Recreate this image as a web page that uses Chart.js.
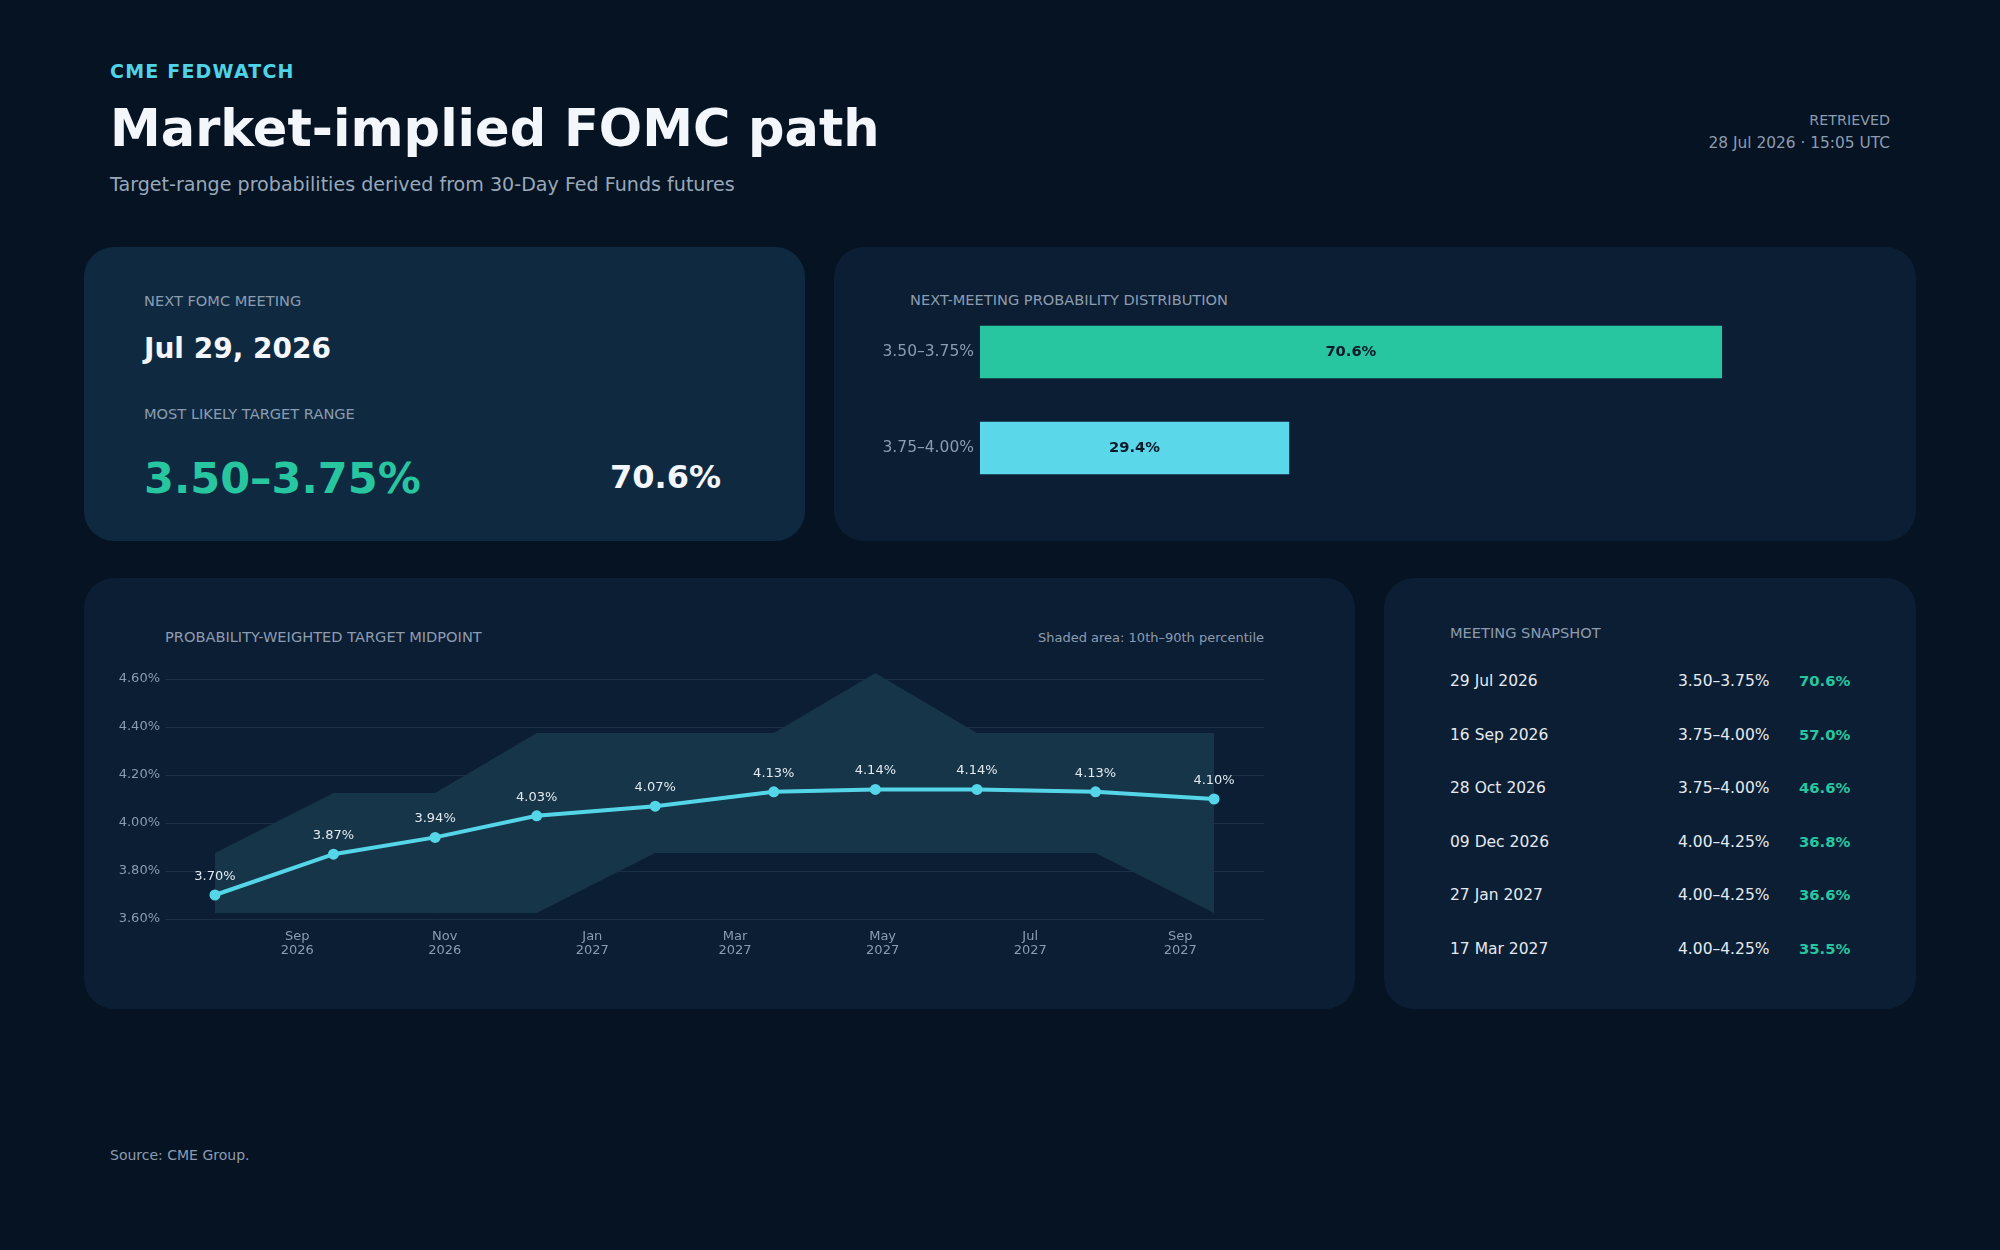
<!DOCTYPE html>
<html>
<head>
<meta charset="utf-8">
<script src="https://cdn.jsdelivr.net/npm/chart.js@4.4.1/dist/chart.umd.min.js"></script>
<style>
  html, body { margin: 0; padding: 0; }
  body {
    width: 2000px; height: 1250px; position: relative; overflow: hidden;
    background: #061322; font-family: "DejaVu Sans", sans-serif;
  }
  .t { position: absolute; white-space: nowrap; line-height: 1; }
  .card { position: absolute; border-radius: 30px; background: #0c1e33; }
  .label { color: #8c9cb0; font-size: 14.6px; }
  canvas { position: absolute; }
</style>
</head>
<body>

<div class="t" style="left:110px;top:62px;font-size:19px;font-weight:bold;color:#4fd3e6;letter-spacing:1.2px">CME FEDWATCH</div>
<div class="t" style="left:110px;top:103px;font-size:51px;font-weight:bold;color:#f3f6fa">Market-implied FOMC path</div>
<div class="t" style="left:110px;top:175px;font-size:19.1px;color:#97a8ba">Target-range probabilities derived from 30-Day Fed Funds futures</div>
<div class="t" style="right:110px;top:113px;font-size:14.3px;color:#8c9cb0;text-align:right">RETRIEVED</div>
<div class="t" id="retrieved" style="right:110px;top:136px;font-size:15.4px;color:#8c9cb0;text-align:right"></div>

<div class="card" style="left:84px;top:247px;width:721px;height:294px;background:#0f2a40"></div>
<div class="card" style="left:834px;top:247px;width:1082px;height:294px"></div>
<div class="card" style="left:84px;top:578px;width:1271px;height:431px"></div>
<div class="card" style="left:1384px;top:578px;width:532px;height:431px"></div>

<div class="t label" style="left:144px;top:294px">NEXT FOMC MEETING</div>
<div class="t" id="nextMeeting" style="left:144px;top:335px;font-size:28px;font-weight:bold;color:#f3f6fa"></div>
<div class="t label" style="left:144px;top:407px">MOST LIKELY TARGET RANGE</div>
<div class="t" id="likelyRange" style="left:144px;top:457px;font-size:43px;font-weight:bold;color:#27c6a1"></div>
<div class="t" id="likelyProb" style="right:1279px;top:461px;font-size:32px;font-weight:bold;color:#f3f6fa;text-align:right"></div>

<div class="t label" style="left:910px;top:293px">NEXT-MEETING PROBABILITY DISTRIBUTION</div>
<canvas id="distChart" width="1082" height="294" style="left:834px;top:247px"></canvas>

<div class="t label" style="left:165px;top:630px">PROBABILITY-WEIGHTED TARGET MIDPOINT</div>
<div class="t" style="right:736px;top:631px;font-size:13px;color:#8c9cb0">Shaded area: 10th–90th percentile</div>
<canvas id="pathChart" width="1271" height="431" style="left:84px;top:578px"></canvas>

<div class="t label" style="left:1450px;top:626px">MEETING SNAPSHOT</div>
<div id="snapshot"></div>

<div class="t" style="left:110px;top:1148px;font-size:14px;color:#8c9cb0">Source: CME Group.</div>

<script>
/* ---------- DATA ---------- */

const retrievedAt = "28 Jul 2026 · 15:05 UTC";
const nextMeeting = "Jul 29, 2026";

// next-meeting distribution
const distRanges = ["3.50–3.75%", "3.75–4.00%"];
const distProbs = [70.6, 29.4];

// probability-weighted midpoint path
const meetingDates = ["2026-07-29", "2026-09-16", "2026-10-28", "2026-12-09", "2027-01-27",
                      "2027-03-17", "2027-04-28", "2027-06-09", "2027-07-28", "2027-09-15"];
const midpoints = [3.70, 3.87, 3.94, 4.03, 4.07, 4.13, 4.14, 4.14, 4.13, 4.10];
const p90 = [3.875, 4.125, 4.125, 4.375, 4.375, 4.375, 4.625, 4.375, 4.375, 4.375];
const p10 = [3.625, 3.625, 3.625, 3.625, 3.875, 3.875, 3.875, 3.875, 3.875, 3.625];

const xTickDates = ["2026-09-01", "2026-11-01", "2027-01-01", "2027-03-01", "2027-05-01", "2027-07-01", "2027-09-01"];
const xTickLabels = [["Sep", "2026"], ["Nov", "2026"], ["Jan", "2027"], ["Mar", "2027"],
                     ["May", "2027"], ["Jul", "2027"], ["Sep", "2027"]];
const yTicks = [3.6, 3.8, 4.0, 4.2, 4.4, 4.6];

// snapshot table
const snapDates = ["29 Jul 2026", "16 Sep 2026", "28 Oct 2026", "09 Dec 2026", "27 Jan 2027", "17 Mar 2027"];
const snapRanges = ["3.50–3.75%", "3.75–4.00%", "3.75–4.00%", "4.00–4.25%", "4.00–4.25%", "4.00–4.25%"];
const snapProbs = [70.6, 57.0, 46.6, 36.8, 36.6, 35.5];

/* ---------- TEXT ---------- */

Chart.defaults.font.family = "'DejaVu Sans', sans-serif";
Chart.defaults.color = "#8c9cb0";

document.getElementById("retrieved").innerText = retrievedAt;
document.getElementById("nextMeeting").innerText = nextMeeting;
document.getElementById("likelyRange").innerText = distRanges[0];
document.getElementById("likelyProb").innerText = distProbs[0].toFixed(1) + "%";

const snap = document.getElementById("snapshot");
snapDates.forEach((d, i) => {
    const top = 674 + i * 53.6;
    snap.innerHTML += `
        <div class="t" style="left:1450px;top:${top}px;font-size:15.5px;color:#e4eaf0">${d}</div>
        <div class="t" style="left:1678px;top:${top}px;font-size:15.5px;color:#e4eaf0">${snapRanges[i]}</div>
        <div class="t" style="left:1799px;top:${top}px;font-size:14.8px;font-weight:bold;color:#27c6a1">${snapProbs[i].toFixed(1)}%</div>`;
});

/* ---------- DISTRIBUTION BARS ---------- */

const barLabels = {
    id: "barLabels",
    afterDatasetsDraw(chart) {
        const ctx = chart.ctx;
        const meta = chart.getDatasetMeta(0);
        ctx.save();
        ctx.font = "bold 14.7px 'DejaVu Sans'";
        ctx.fillStyle = "#0a1a2a";
        ctx.textAlign = "center";
        ctx.textBaseline = "middle";
        meta.data.forEach((bar, i) => {
            const x = (bar.base + bar.x) / 2;
            ctx.fillText(distProbs[i].toFixed(1) + "%", x, bar.y);
        });
        ctx.restore();
    }
};

new Chart(document.getElementById("distChart"), {
    type: "bar",
    data: {
        labels: distRanges,
        datasets: [{
            data: distProbs,
            backgroundColor: ["#27c6a1", "#5ad8ea"],
            barThickness: 52
        }]
    },
    options: {
        indexAxis: "y",
        responsive: false,
        animation: false,
        layout: { padding: { top: 57, right: 43, bottom: 45, left: 0 } },
        plugins: { legend: { display: false }, tooltip: { enabled: false } },
        scales: {
            x: { display: false, min: 0, max: 85 },
            y: {
                grid: { display: false, drawTicks: false },
                border: { display: false },
                ticks: { color: "#8c9cb0", font: { size: 15.5 }, padding: 6 },
                afterFit: s => { s.width = 146; }
            }
        }
    },
    plugins: [barLabels]
});

/* ---------- MIDPOINT PATH ---------- */

const toDay = s => Date.parse(s + "T00:00:00Z") / 86400000;
const xs = meetingDates.map(toDay);
const span = xs[xs.length - 1] - xs[0];

const pointLabels = {
    id: "pointLabels",
    afterDatasetsDraw(chart) {
        const ctx = chart.ctx;
        const meta = chart.getDatasetMeta(0);
        ctx.save();
        ctx.font = "13px 'DejaVu Sans'";
        ctx.fillStyle = "#e2e9f0";
        ctx.textAlign = "center";
        ctx.textBaseline = "middle";
        meta.data.forEach((pt, i) => {
            ctx.fillText(midpoints[i].toFixed(2) + "%", pt.x, pt.y - 18.5);
        });
        ctx.restore();
    }
};

new Chart(document.getElementById("pathChart"), {
    type: "line",
    data: {
        datasets: [
            {
                data: xs.map((x, i) => ({ x, y: midpoints[i] })),
                borderColor: "#55d6e8",
                backgroundColor: "#55d6e8",
                borderWidth: 4,
                pointRadius: 5.5,
                pointBorderWidth: 0,
                tension: 0,
                fill: false
            },
            {
                data: xs.map((x, i) => ({ x, y: p90[i] })),
                borderWidth: 0,
                pointRadius: 0,
                backgroundColor: "#163548",
                fill: "+1"
            },
            {
                data: xs.map((x, i) => ({ x, y: p10[i] })),
                borderWidth: 0,
                pointRadius: 0,
                fill: false
            }
        ]
    },
    options: {
        responsive: false,
        animation: false,
        layout: { padding: { top: 89, right: 91, bottom: 0, left: 0 } },
        plugins: { legend: { display: false }, tooltip: { enabled: false } },
        scales: {
            x: {
                type: "linear",
                min: xs[0] - span * 0.05,
                max: xs[xs.length - 1] + span * 0.05,
                grid: { display: false, drawTicks: false },
                border: { display: false },
                afterBuildTicks: s => { s.ticks = xTickDates.map(d => ({ value: toDay(d) })); },
                ticks: {
                    color: "#8c9cb0",
                    font: { size: 13, lineHeight: 1.1 },
                    padding: 10,
                    maxRotation: 0,
                    autoSkip: false,
                    callback: (v, i) => xTickLabels[i]
                },
                afterFit: s => { s.height = 90; }
            },
            y: {
                min: 3.6,
                max: 4.65,
                grid: { color: "#1c3148", lineWidth: 1, drawTicks: false },
                border: { display: false },
                afterBuildTicks: s => { s.ticks = yTicks.map(v => ({ value: v })); },
                ticks: {
                    color: "#8c9cb0",
                    font: { size: 13 },
                    padding: 5,
                    callback: v => v.toFixed(2) + "%"
                },
                afterFit: s => { s.width = 81; }
            }
        }
    },
    plugins: [pointLabels]
});
</script>
</body>
</html>
